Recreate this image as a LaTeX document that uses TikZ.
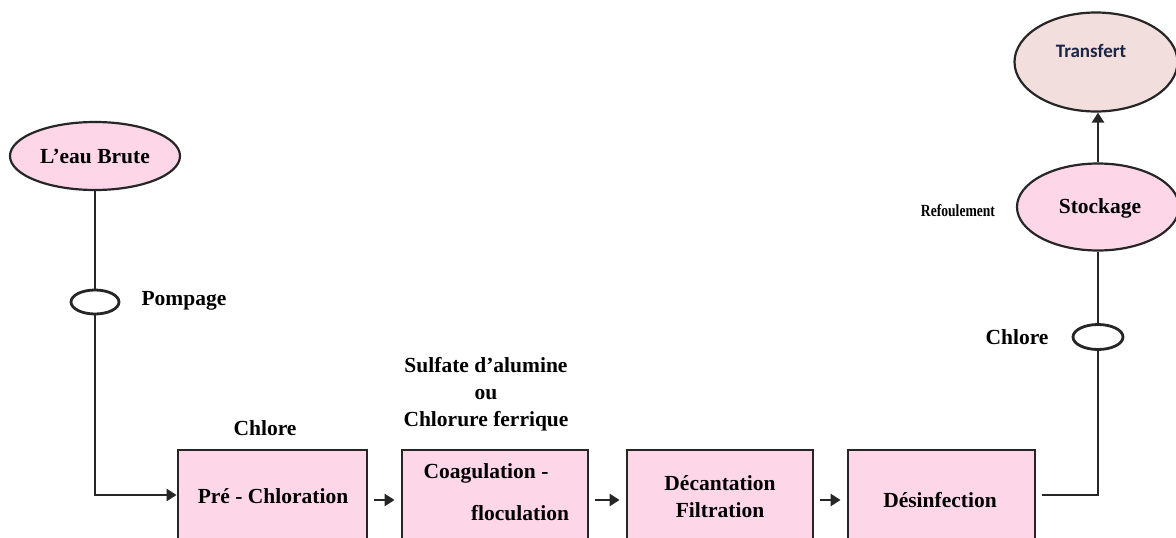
\documentclass[tikz,border=0pt]{standalone}
\usepackage{fontspec}
\setmainfont{Liberation Serif}
\newfontfamily\calib{Carlito}
\usetikzlibrary{shapes.geometric,arrows.meta}
\definecolor{pinkfill}{RGB}{253,214,232}
\definecolor{tanfill}{RGB}{241,222,221}
\definecolor{navytxt}{RGB}{28,38,68}
\begin{document}
\begin{tikzpicture}[x=1pt,y=-1pt,
  every node/.style={font=\fontsize{21.5}{25}\selectfont\bfseries},
  ln/.style={line width=2.8pt,black!85},
  arr/.style={ln,-{Triangle[length=10pt,width=12pt]}},
  pbox/.style={draw=black!85,line width=2.8pt,fill=pinkfill,rectangle,minimum height=100pt,inner sep=0pt},
  bigell/.style={draw=black!85,line width=2.2pt,ellipse,inner sep=0pt},
  valve/.style={draw=black!85,line width=2.8pt,ellipse,fill=white,minimum width=48pt,minimum height=24pt,inner sep=0pt},
  lbl/.style={align=center}]
\useasboundingbox (0,0) rectangle (1176,538);
\clip (0,0) rectangle (1176,538);
% source
\node[bigell,fill=pinkfill,minimum width=170pt,minimum height=68pt] (src) at (95,156) {L'eau Brute};
\node[valve] (v1) at (95,302) {};
\node[lbl,anchor=west] (pomp) at (138,301) {Pompage};
\coordinate (c1) at (95,495);
% boxes
\node[pbox,minimum width=189pt] (pre) at (272.5,500) {};
\node (pretxt) at (273,496) {Pré - Chloration};
\node[pbox,minimum width=186pt] (coag) at (495,500) {};
\node (coagtxt1) at (486,473) {Coagulation -};
\node (coagtxt2) at (520,513) {floculation};
\node[pbox,minimum width=186pt] (dec) at (720,500) {};
\node[lbl,font=\fontsize{21.5}{27}\selectfont\bfseries] (dectxt) at (720,497) {Décantation\\Filtration};
\node[pbox,minimum width=187pt] (des) at (941.5,500) {};
\node (destxt) at (940,500) {Désinfection};
% chemical labels
\node (chl1) at (265,428) {Chlore};
\node[lbl,font=\fontsize{21.5}{27}\selectfont\bfseries] (sulf) at (486,394) {Sulfate d'alumine\\ou\\Chlorure ferrique};
% right side
\coordinate (c2) at (1098,495);
\node[valve,minimum width=50pt,minimum height=25pt] (v2) at (1098,337) {};
\node (chl2) at (1017,337) {Chlore};
\node[bigell,fill=pinkfill,minimum width=162pt,minimum height=87pt] (sto) at (1098,207) {};
\node (stotxt) at (1100,208) {Stockage};
\node[font=\fontsize{17}{20}\selectfont\bfseries] (refo) at (958,211) {\scalebox{0.8}[1]{Refoulement}};
\node[bigell,fill=tanfill,minimum width=163pt,minimum height=99pt] (tra) at (1096,62) {};
\node[font=\calib\fontsize{19}{22}\selectfont\bfseries,text=navytxt] (tratxt) at (1091,51) {Transfert};
% connectors
\draw[ln] (src.south) -- (v1.north);
\draw[arr] (v1.south) -- (c1) -- (pre.west |- c1);
\draw[arr] ([xshift=6pt]pre.east) -- ([xshift=-6pt]coag.west);
\draw[arr] ([xshift=6pt]coag.east) -- ([xshift=-6pt]dec.west);
\draw[arr] ([xshift=6pt]dec.east) -- ([xshift=-6pt]des.west);
\draw[ln] ([xshift=6pt]des.east |- c2) -- (c2) -- (v2.south);
\draw[ln] (v2.north) -- (sto.south);
\draw[arr] (sto.north) -- (sto.north |- tra.south);
\end{tikzpicture}
\end{document}
